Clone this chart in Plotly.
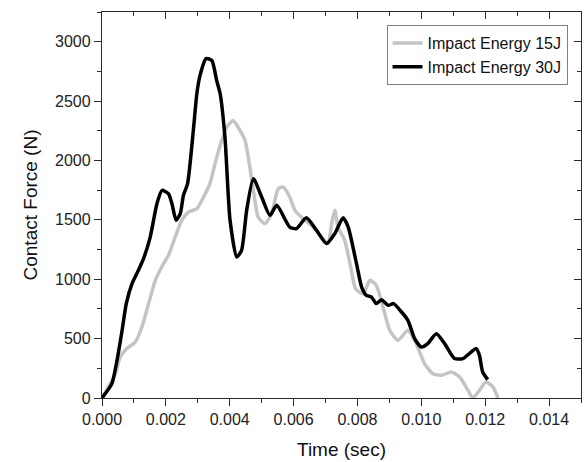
import plotly.graph_objects as go

# Impact Energy 15J (gray)
t15 = [0.0, 0.00042, 0.00057, 0.00078, 0.00104, 0.00125, 0.00146, 0.00167, 0.00187, 0.00208,
       0.00229, 0.0025, 0.00271, 0.00297, 0.00318, 0.00338, 0.00354, 0.00375, 0.00391, 0.00411,
       0.00432, 0.00448, 0.00463, 0.00478, 0.00489, 0.0051, 0.00531, 0.00552, 0.00568, 0.00588,
       0.00604, 0.0063, 0.00661, 0.00688, 0.00708, 0.00719, 0.00729, 0.00739, 0.0076, 0.00781,
       0.00794, 0.00818, 0.00839, 0.00859, 0.0088, 0.00901, 0.00927, 0.00958, 0.00984, 0.0101,
       0.01036, 0.01063, 0.01094, 0.0112, 0.01146, 0.01161, 0.01182, 0.01203, 0.01224, 0.0124]
f15 = [0, 205, 345, 416, 471, 598, 795, 991, 1103, 1201,
       1355, 1496, 1566, 1594, 1692, 1805, 1973, 2169, 2281, 2337,
       2253, 2169, 1944, 1680, 1523, 1468, 1552, 1762, 1776, 1692,
       1580, 1510, 1439, 1355, 1300, 1468, 1580, 1439, 1327, 1075,
       920, 878, 991, 948, 766, 570, 486, 570, 458, 290,
       205, 191, 219, 177, 65, 0, 65, 135, 93, 0]

# Impact Energy 30J (black)
t30 = [0.0, 0.00031, 0.00047, 0.00063, 0.00076, 0.00094, 0.00114, 0.0013, 0.00151, 0.00172,
       0.00188, 0.00208, 0.00219, 0.00232, 0.00245, 0.00255, 0.00268, 0.00286, 0.00297, 0.00307,
       0.00326, 0.00344, 0.00359, 0.0037, 0.00385, 0.00401, 0.00422, 0.00437, 0.00453, 0.00474,
       0.005, 0.00526, 0.00547, 0.00588, 0.00609, 0.0064, 0.00672, 0.00703, 0.00729, 0.00755,
       0.00771, 0.00797, 0.00813, 0.00828, 0.00844, 0.00859, 0.00875, 0.00896, 0.00913, 0.00938,
       0.00958, 0.00979, 0.01, 0.0102, 0.01047, 0.01073, 0.01104, 0.0113, 0.01172, 0.01182,
       0.01192, 0.01208]
f30 = [0, 121, 317, 570, 795, 963, 1075, 1173, 1355, 1636,
       1748, 1720, 1636, 1496, 1552, 1706, 1805, 2253, 2562, 2716,
       2857, 2842, 2674, 2562, 2197, 1496, 1187, 1243, 1580, 1847,
       1692, 1538, 1622, 1439, 1426, 1518, 1411, 1300, 1384, 1518,
       1439, 1131, 934, 864, 850, 795, 828, 780, 795, 724,
       654, 500, 429, 458, 542, 458, 332, 332, 416, 359,
       219, 155]

names = ["Impact Energy 15J", "Impact Energy 30J"]
x_ticks = [0.0, 0.002, 0.004, 0.006, 0.008, 0.010, 0.012, 0.014]
y_ticks = [0, 500, 1000, 1500, 2000, 2500, 3000]

FONT = "Liberation Sans, Arial, sans-serif"
AX = "#2a2a2a"

fig = go.Figure()
fig.add_trace(go.Scatter(x=t15, y=f15, mode="lines", name=names[0],
                         line=dict(color="#c4c4c4", width=3.5, shape="spline", smoothing=0.6)))
fig.add_trace(go.Scatter(x=t30, y=f30, mode="lines", name=names[1],
                         line=dict(color="#000000", width=3.5, shape="spline", smoothing=0.6)))
fig.add_trace(go.Scatter(x=[], y=[], xaxis="x2", yaxis="y2", showlegend=False, hoverinfo="skip"))

common = dict(showgrid=False, zeroline=False, showline=True, linecolor=AX, linewidth=1.3)

fig.update_layout(
    width=587, height=462,
    margin=dict(l=102, r=6, t=12, b=64),
    paper_bgcolor="white", plot_bgcolor="white",
    font=dict(family=FONT, size=16, color="#222222"),
    showlegend=True,
    legend=dict(x=0.594, y=0.966, xanchor="left", yanchor="top",
                bgcolor="white", bordercolor="#808080", borderwidth=1,
                font=dict(family=FONT, size=16, color="#111111"),
                tracegroupgap=0, itemwidth=30),
    xaxis=dict(range=[0, 0.015], tickvals=x_ticks, tickformat=".3f",
               ticks="outside", ticklen=7, tickwidth=1.3, tickcolor=AX,
               minor=dict(dtick=0.001, tick0=0, ticks="outside", ticklen=4, tickwidth=1.3, tickcolor=AX),
               title=dict(text="Time (sec)", font=dict(size=19, color="#111111"), standoff=15),
               **common),
    yaxis=dict(range=[0, 3250], tickvals=y_ticks,
               ticks="outside", ticklen=7, tickwidth=1.3, tickcolor=AX,
               minor=dict(dtick=250, tick0=0, ticks="outside", ticklen=4, tickwidth=1.3, tickcolor=AX),
               title=dict(text="Contact Force (N)", font=dict(size=19, color="#111111"), standoff=12),
               **common),
    xaxis2=dict(overlaying="x", side="top", range=[0, 0.015], tickvals=x_ticks,
                showticklabels=False, ticks="inside", ticklen=7, tickwidth=1.3, tickcolor=AX,
                minor=dict(dtick=0.001, tick0=0, ticks="inside", ticklen=4, tickwidth=1.3, tickcolor=AX),
                **common),
    yaxis2=dict(overlaying="y", side="right", range=[0, 3250], tickvals=y_ticks,
                showticklabels=False, ticks="inside", ticklen=7, tickwidth=1.3, tickcolor=AX,
                minor=dict(dtick=250, tick0=0, ticks="inside", ticklen=4, tickwidth=1.3, tickcolor=AX),
                **common),
)

fig.write_html("out.html")
